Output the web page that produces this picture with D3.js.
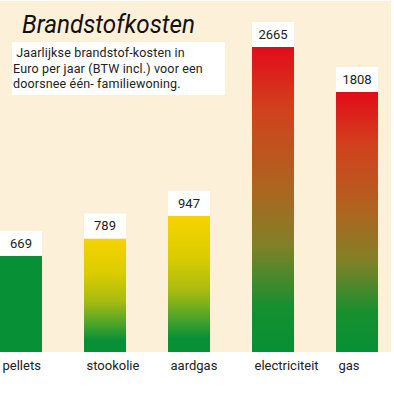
<!DOCTYPE html>
<html>
<head>
<meta charset="utf-8">
<script src="https://cdn.jsdelivr.net/npm/d3@7"></script>
<style>
  body { margin: 0; background: #fff; }
  text { font-family: "Roboto", "Liberation Sans", sans-serif; fill: #222; }
</style>
</head>
<body>
<div id="chart"></div>
<script>
// data
var categories = ["pellets", "stookolie", "aardgas", "electriciteit", "gas"];
var costs = [669, 789, 947, 2665, 1808];
var palette = ["green", "yellow", "yellow", "red", "red"];
var subtitle = [" Jaarlijkse brandstof-kosten in", "Euro per jaar (BTW incl.) voor een", "doorsnee één- familiewoning."];

var width = 394, height = 400;
var svg = d3.select("#chart").append("svg")
    .attr("width", width)
    .attr("height", height);

// cream panel
svg.append("rect")
    .attr("x", 0).attr("y", 1)
    .attr("width", 391).attr("height", 351)
    .attr("fill", "#fdf0d9");

// gradients
var defs = svg.append("defs");
var gradStops = {
  green: [[0, "#079036"], [1, "#079036"]],
  yellow: [[0, "#f6d300"], [0.3, "#dccc00"], [0.55, "#a8bc10"], [0.75, "#4ea42a"], [0.9, "#079036"], [1, "#079036"]],
  red: [[0, "#e30b1a"], [0.2, "#d2401d"], [0.45, "#b0631f"], [0.65, "#818127"], [0.85, "#16902f"], [1, "#079036"]]
};
Object.keys(gradStops).forEach(function (k) {
  var g = defs.append("linearGradient")
      .attr("id", "grad-" + k)
      .attr("x1", 0).attr("y1", 0).attr("x2", 0).attr("y2", 1);
  gradStops[k].forEach(function (s) {
    g.append("stop").attr("offset", s[0]).attr("stop-color", s[1]);
  });
});

// scales - the tallest bar is cut off (clamped) like in the print graphic
var x = d3.scaleBand().domain(categories).range([0, 378]).paddingInner(0.5).paddingOuter(0);
var y = d3.scaleLinear().domain([0, 2120]).range([352, 47]).clamp(true);

var data = categories.map(function (c, i) { return { cat: c, val: costs[i], col: palette[i] }; });

var bars = svg.selectAll(".bar").data(data).enter().append("g");

bars.append("rect")
    .attr("x", function (d) { return x(d.cat); })
    .attr("y", function (d) { return y(d.val); })
    .attr("width", x.bandwidth())
    .attr("height", function (d) { return 352 - y(d.val); })
    .attr("fill", function (d) { return "url(#grad-" + d.col + ")"; });

// value boxes
bars.append("rect")
    .attr("x", function (d) { return x(d.cat); })
    .attr("y", function (d) { return y(d.val) - 25; })
    .attr("width", x.bandwidth())
    .attr("height", 25)
    .attr("fill", "#fff");

bars.append("text")
    .attr("x", function (d) { return x(d.cat) + x.bandwidth() / 2; })
    .attr("y", function (d) { return y(d.val) - 8; })
    .attr("text-anchor", "middle")
    .style("font-size", "13px")
    .text(function (d) { return d.val; });

// category labels
bars.append("text")
    .attr("x", function (d) { return x(d.cat) + 2.5; })
    .attr("y", 370)
    .style("font-size", "13px")
    .text(function (d) { return d.cat; });

// title
svg.append("text")
    .attr("x", 22).attr("y", 33)
    .style("font-size", "25px")
    .style("font-style", "italic")
    .attr("textLength", 173)
    .attr("lengthAdjust", "spacingAndGlyphs")
    .style("fill", "#111")
    .text("Brandstofkosten");

// subtitle box
svg.append("rect")
    .attr("x", 12).attr("y", 42)
    .attr("width", 213).attr("height", 53)
    .attr("fill", "#fff");

svg.selectAll(".sub").data(subtitle).enter().append("text")
    .attr("x", 13)
    .attr("y", function (d, i) { return 57 + i * 15.5; })
    .style("font-size", "12.5px")
    .style("letter-spacing", "0.15px")
    .attr("xml:space", "preserve")
    .text(function (d) { return d; });
</script>
</body>
</html>
